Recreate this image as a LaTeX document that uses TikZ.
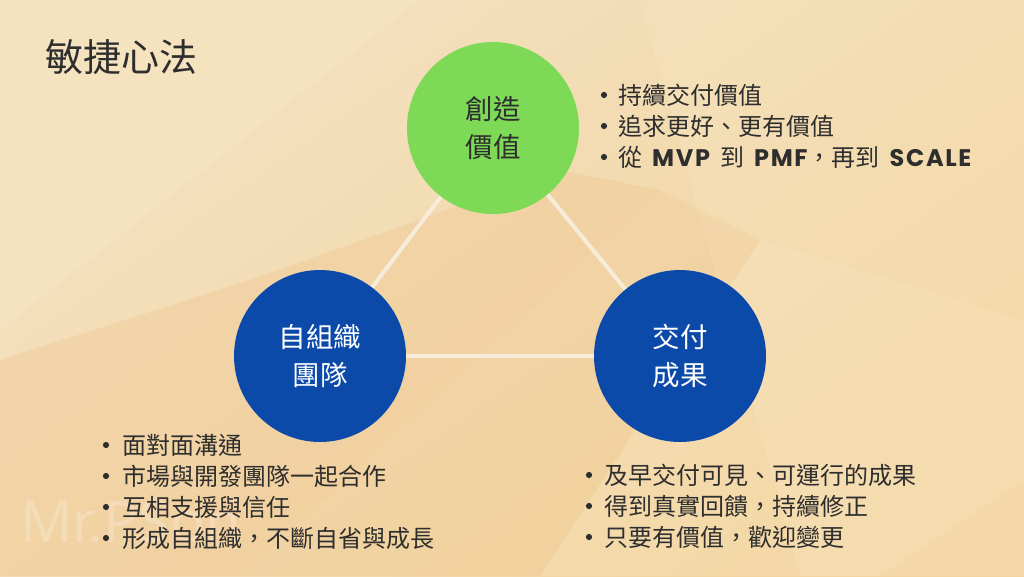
\documentclass[tikz,border=0pt]{standalone}
\usepackage{fontspec}
\setmainfont{Noto Sans CJK TC}
\newfontfamily\pop{Poppins}[LetterSpace=7]
\newfontfamily\wmfont{Noto Sans}
\definecolor{bgA}{HTML}{F3E1C0}
\definecolor{bgB}{HTML}{F3D49E}
\definecolor{bandD}{HTML}{EDBF85}
\definecolor{bandL}{HTML}{F8E6C2}
\definecolor{linec}{HTML}{F7EBDA}
\definecolor{greenc}{HTML}{7ED957}
\definecolor{bluec}{HTML}{0B4AA8}
\definecolor{txt}{HTML}{2E2E2E}
\tikzset{
  hub/.style={circle, minimum size=172pt, inner sep=0pt, align=center, font=\fontsize{27.5}{38}\selectfont},
  link/.style={draw=linec, line width=4pt},
  item/.style={anchor=west, inner sep=0pt, text=txt, font=\fontsize{24}{28}\selectfont},
  dot/.style={fill=txt}
}
\newcommand{\lb}[1]{{\pop\bfseries\fontsize{24}{28}\selectfont #1}}
\begin{document}
\begin{tikzpicture}[x=1pt,y=-1pt]
\useasboundingbox (0,0) rectangle (1024,576);
% background
\shade[shading=axis, top color=bgA, bottom color=bgB, shading angle=35] (0,0) rectangle (1024,576);
\fill[bandL, opacity=0.45] (0,0) -- (420,0) -- (0,330) -- cycle;
\fill[bandL, opacity=0.30] (640,0) -- (1024,0) -- (1024,480) -- (880,576) -- (800,576) -- cycle;
\fill[bandD, opacity=0.30] (0,360) -- (250,280) -- (560,170) -- (660,190) -- (240,576) -- (0,576) -- cycle;
\fill[bandD, opacity=0.20] (240,576) -- (660,190) -- (760,240) -- (540,576) -- cycle;
\fill[bandL, opacity=0.25] (540,576) -- (760,240) -- (1024,320) -- (1024,576) -- cycle;
% watermark
\node[anchor=west, inner sep=0pt, text=white, opacity=0.22, font=\wmfont\fontsize{58}{60}\selectfont] (wm) at (20,522) {Mr.PSon};
% title
\node[anchor=west, inner sep=0pt, text=txt, font=\fontsize{38}{40}\selectfont] (title) at (45,57) {敏捷心法};
% hubs
\coordinate (cv) at (493,128);
\coordinate (st) at (320,356);
\coordinate (dl) at (680,356);
\draw[link] (cv) -- (st);
\draw[link] (cv) -- (dl);
\draw[link] (st) -- (dl);
\node[hub, fill=greenc, text=txt] (value) at (cv) {創造\\價值};
\node[hub, fill=bluec, text=white] (team) at (st) {自組織\\團隊};
\node[hub, fill=bluec, text=white] (deliver) at (dl) {交付\\成果};
% top-right list
\node[item] (r1) at (618,95) {持續交付價值};
\node[item] (r2) at (618,126) {追求更好、更有價值};
\node[item] (r3) at (618,157) {從\hspace{10pt}\lb{MVP}\hspace{10pt}到\hspace{10pt}\lb{PMF}，再到\hspace{10pt}\lb{SCALE}};
\foreach \n in {r1,r2,r3} \fill[dot] ([xshift=-14pt]\n.west) circle (3.1pt);
% left list
\node[item] (l1) at (122,445) {面對面溝通};
\node[item] (l2) at (122,476) {市場與開發團隊一起合作};
\node[item] (l3) at (122,507) {互相支援與信任};
\node[item] (l4) at (122,538) {形成自組織，不斷自省與成長};
\foreach \n in {l1,l2,l3,l4} \fill[dot] ([xshift=-16pt]\n.west) circle (3.1pt);
% right list
\node[item] (d1) at (604,475) {及早交付可見、可運行的成果};
\node[item] (d2) at (604,506) {得到真實回饋，持續修正};
\node[item] (d3) at (604,537) {只要有價值，歡迎變更};
\foreach \n in {d1,d2,d3} \fill[dot] ([xshift=-15pt]\n.west) circle (3.1pt);
\end{tikzpicture}
\end{document}
